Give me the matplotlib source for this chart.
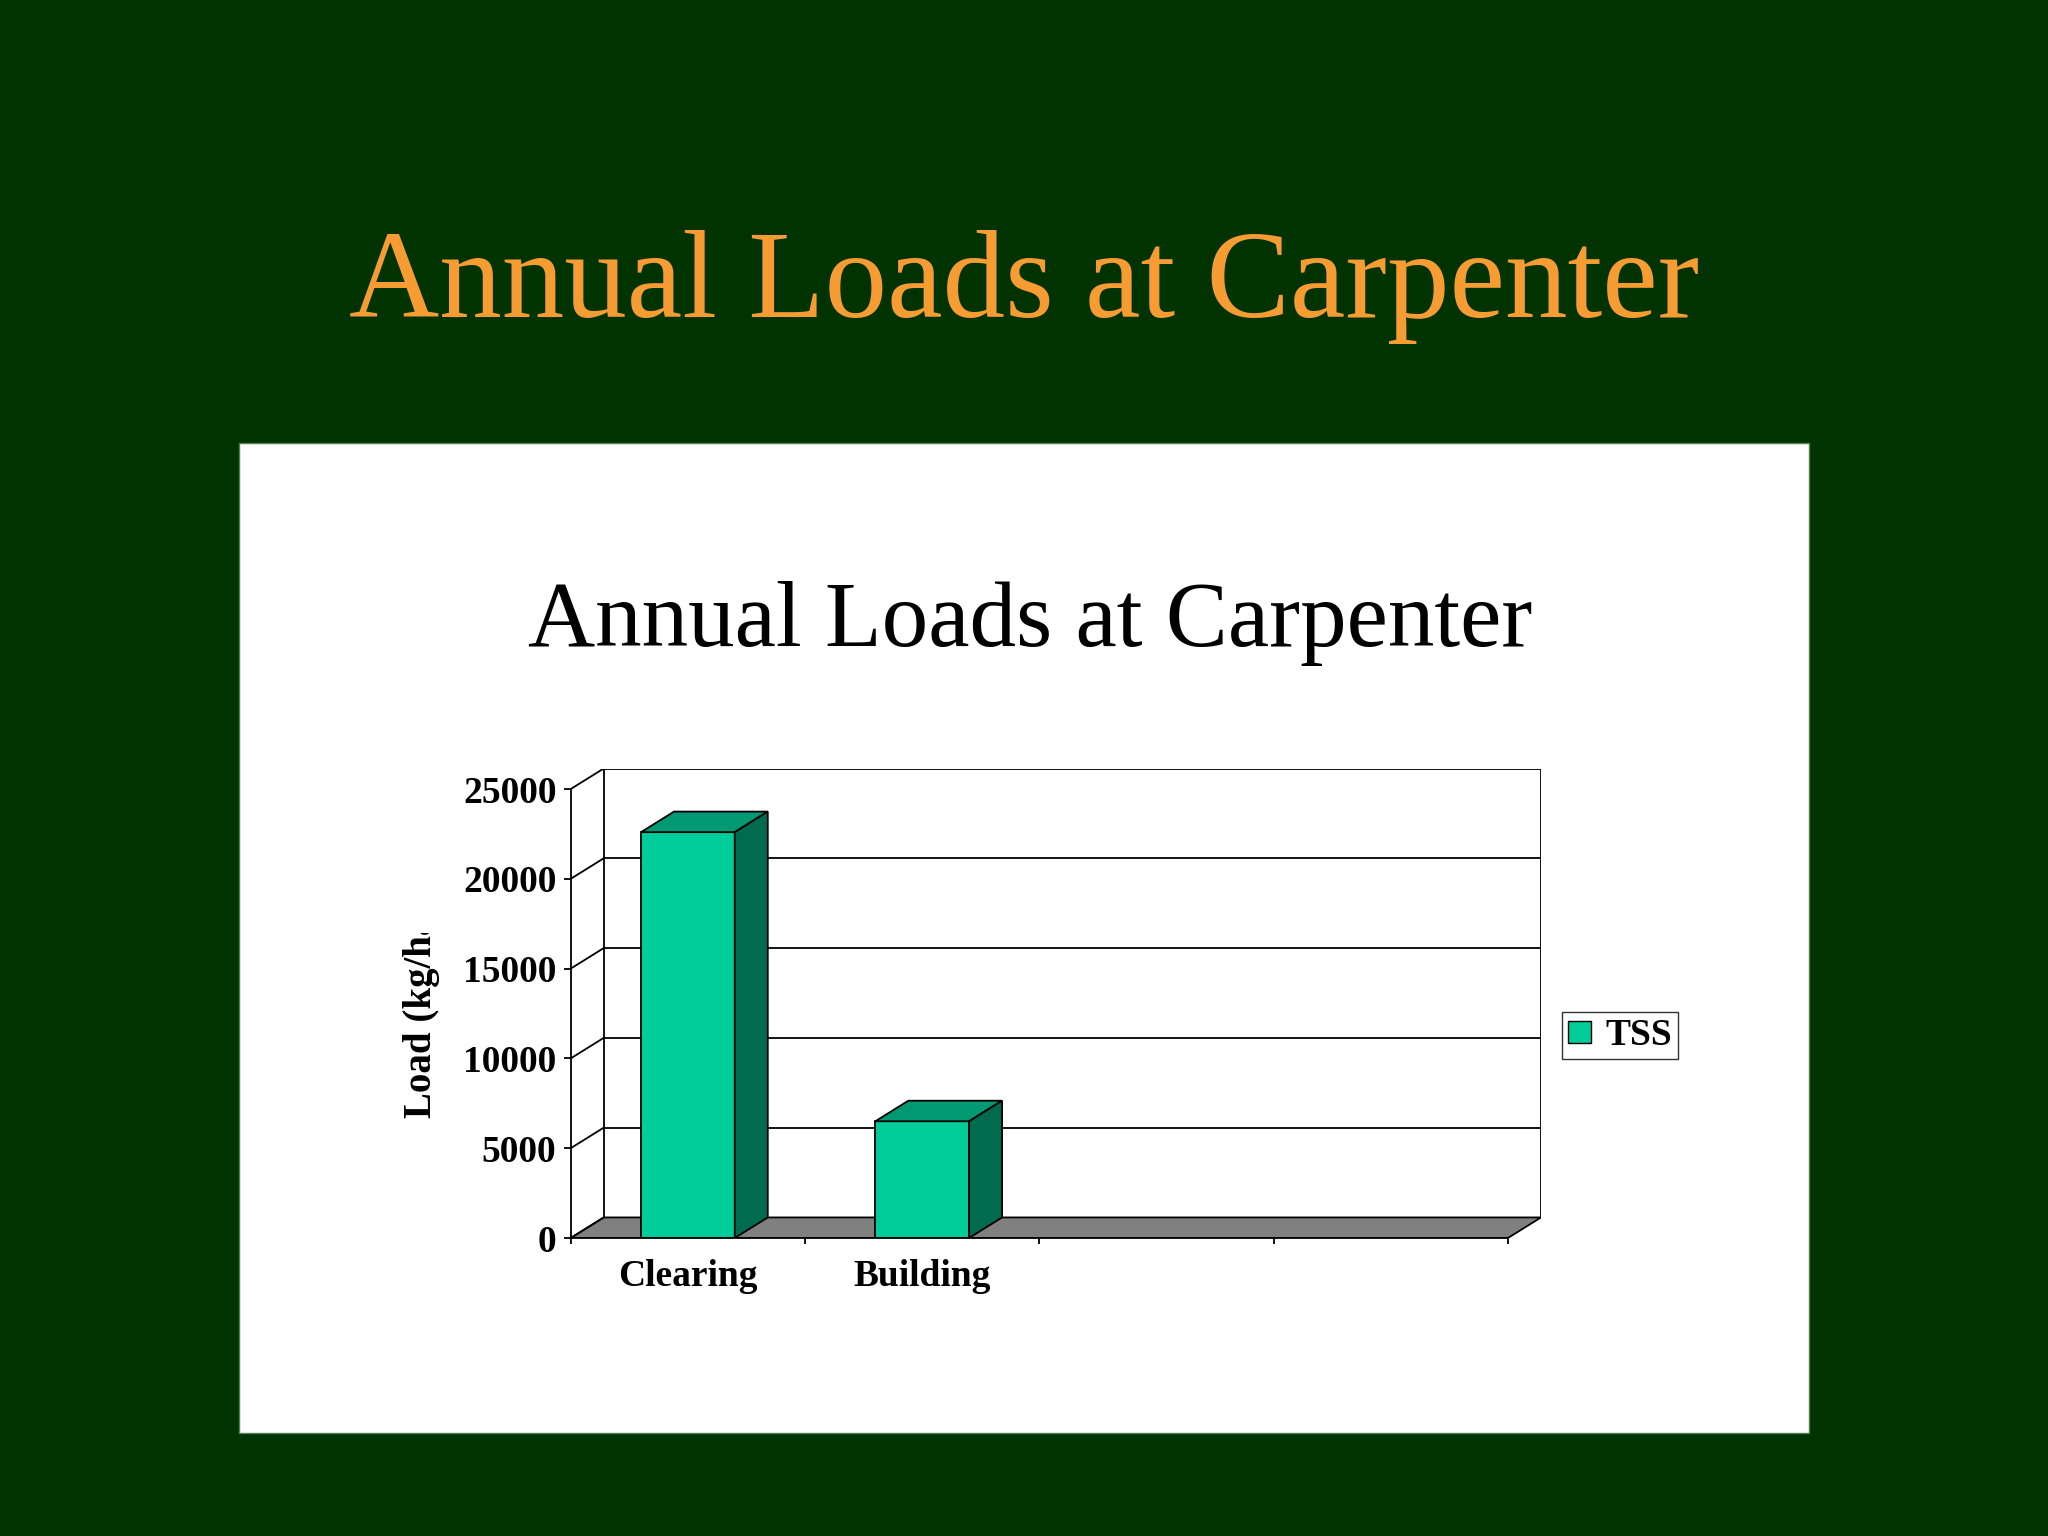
import matplotlib
matplotlib.use("Agg")
import matplotlib.pyplot as plt
from matplotlib.patches import Rectangle, Polygon, Patch
from matplotlib.transforms import Bbox, TransformedBbox

# ---- data ----
categories = ["Clearing", "Building"]
tss = [22600, 6500]
series_name = "TSS"
yticks = [0, 5000, 10000, 15000, 20000, 25000]
n_slots = 4                      # category slots on the x axis (two are empty)
main_title = "Annual Loads at Carpenter"
chart_title = "Annual Loads at Carpenter"
ylabel = "Load (kg/ha)"

# ---- style ----
BG = "#003300"
ORANGE = "#F79B33"
FRONT = "#00CC99"
TOP = "#009973"
SIDE = "#006B4F"
FLOOR = "#808080"
LW = 1.3
FONT = "Liberation Serif"
DX = 0.141     # depth offset in category units
DY = 1145      # depth offset in value units
BAR_W = 0.4

W, H = 2048, 1536
fig = plt.figure(figsize=(W / 100, H / 100), dpi=100, facecolor=BG)

# white panel
fig.patches.append(Rectangle((238.7 / W, 1 - 1433.3 / H), (1809.3 - 238.7) / W,
                             (1433.3 - 443.3) / H, transform=fig.transFigure,
                             facecolor="white", edgecolor="#4f7f4f", lw=1.0, zorder=-5))

# titles
fig.text(0.5, 1 - 317 / H, main_title, color=ORANGE, fontsize=90, family=FONT,
         ha="center", va="baseline")
fig.text(1030 / W, 1 - 646 / H, chart_title, color="black", fontsize=67, family=FONT,
         ha="center", va="baseline")

# axes: front plane x in [0, n_slots], y in [0, ymax]; back plane offset by (DX, DY)
left, right, bottom, top = 570.7, 1541.0, 1238.0, 768.5
ax = fig.add_axes([left / W, 1 - bottom / H, (right - left) / W, (bottom - top) / H])
ax.set_zorder(1)
ax.patch.set_visible(False)
ymax = yticks[-1]
ax.set_xlim(0, n_slots + DX)
ax.set_ylim(0, ymax + DY)
for s in ["top", "right"]:
    ax.spines[s].set_visible(False)
ax.spines["left"].set_bounds(0, ymax)
ax.spines["bottom"].set_bounds(0, n_slots)
ax.spines["left"].set_linewidth(LW)
ax.spines["bottom"].set_linewidth(LW)
ax.spines["left"].set_zorder(4)
ax.spines["bottom"].set_zorder(4)

# floor
ax.add_patch(Polygon([(0, 0), (n_slots, 0), (n_slots + DX, DY), (DX, DY)],
                     closed=True, facecolor=FLOOR, edgecolor="black", lw=LW, zorder=1))
# back wall gridlines and walls
for y in yticks[1:]:
    ax.plot([DX, n_slots + DX], [y + DY, y + DY], color="black", lw=LW, zorder=1.5)
for y in yticks:
    ax.plot([0, DX], [y, y + DY], color="black", lw=LW, zorder=1.5)
ax.plot([DX, DX], [DY, ymax + DY], color="black", lw=LW, zorder=1.5)
ax.plot([n_slots + DX, n_slots + DX], [DY, ymax + DY], color="black", lw=LW, zorder=1.5)

# bars (front faces via bar, top & side faces from same values)
xpos = [i + 0.5 for i in range(len(categories))]
ax.bar(xpos, tss, width=BAR_W, color=FRONT, edgecolor="black", lw=LW, zorder=3)
for x, v in zip(xpos, tss):
    x0, x1 = x - BAR_W / 2, x + BAR_W / 2
    ax.add_patch(Polygon([(x0, v), (x1, v), (x1 + DX, v + DY), (x0 + DX, v + DY)],
                         closed=True, facecolor=TOP, edgecolor="black", lw=LW, zorder=3))
    ax.add_patch(Polygon([(x1, 0), (x1 + DX, DY), (x1 + DX, v + DY), (x1, v)],
                         closed=True, facecolor=SIDE, edgecolor="black", lw=LW, zorder=3))

# ticks
ax.set_yticks(yticks)
ax.set_yticklabels([str(t) for t in yticks], fontsize=27, fontweight="bold", family=FONT)
ax.tick_params(axis="y", direction="out", length=5.3, width=LW, pad=5)
ax.set_xticks(range(n_slots + 1))
ax.set_xticklabels([""] * (n_slots + 1))
ax.set_xticks(xpos, minor=True)
ax.set_xticklabels(categories, minor=True, fontsize=27, fontweight="bold", family=FONT)
ax.tick_params(axis="x", which="major", direction="out", length=4.5, width=LW)
ax.tick_params(axis="x", which="minor", length=0, pad=15)

# y label (clipped like the original)
t = fig.text(421 / W, 1 - 1118 / H, ylabel, rotation=90, ha="center", va="bottom",
             fontsize=28, fontweight="bold", family=FONT, clip_on=True)
t.set_clip_box(TransformedBbox(Bbox([[0, 0], [1, 1 - 933 / H]]), fig.transFigure))

# legend
leg = ax.legend(handles=[Patch(facecolor=FRONT, edgecolor="black", lw=1.0, label=series_name)],
                loc="center", bbox_to_anchor=(1620 / W, 1 - 1035.4 / H),
                bbox_transform=fig.transFigure, frameon=True, fancybox=False,
                prop={"family": FONT, "weight": "bold", "size": 27},
                handlelength=0.62, handleheight=0.52, handletextpad=0.4,
                borderpad=0.15, borderaxespad=0)
leg.get_frame().set_edgecolor("black")
leg.get_frame().set_linewidth(1.0)

fig.savefig("out.png", dpi=100, facecolor=BG)
